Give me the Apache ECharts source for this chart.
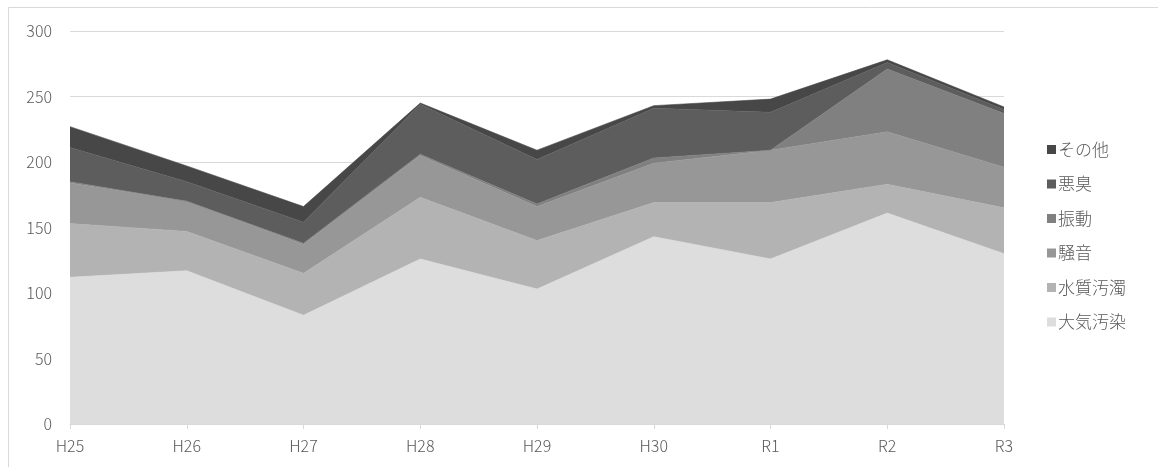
<!DOCTYPE html>
<html>
<head>
<meta charset="utf-8">
<script src="https://cdn.jsdelivr.net/npm/echarts@6/dist/echarts.min.js"></script>
<style>
  html, body { margin: 0; padding: 0; background: #ffffff; }
  #chart { width: 1158px; height: 467px; }
</style>
</head>
<body>
<div id="chart"></div>
<script>
// Fiscal years
const years = ['H25', 'H26', 'H27', 'H28', 'H29', 'H30', 'R1', 'R2', 'R3'];

// Complaint counts per category (stacked from the bottom up)
const taikiOsen  = [112, 117, 83, 126, 103, 143, 126, 161, 130]; // 大気汚染
const suishitsu  = [41, 30, 32, 47, 37, 26, 43, 22, 35];         // 水質汚濁
const souon      = [31, 23, 22, 32, 26, 30, 40, 40, 31];         // 騒音
const shindou    = [1, 0, 1, 1, 2, 4, 0, 48, 41];                // 振動
const akushuu    = [26, 15, 16, 38, 34, 38, 29, 5, 3];           // 悪臭
const sonota     = [16, 12, 12, 1, 7, 2, 10, 2, 2];              // その他

const yTicks = { min: 0, max: 300, interval: 50 };

const seriesDefs = [
  { name: '大気汚染', data: taikiOsen, color: '#dddddd' },
  { name: '水質汚濁', data: suishitsu, color: '#b3b3b3' },
  { name: '騒音',     data: souon,     color: '#979797' },
  { name: '振動',     data: shindou,   color: '#808080' },
  { name: '悪臭',     data: akushuu,   color: '#5d5d5d' },
  { name: 'その他',   data: sonota,    color: '#474747' }
];

const FONT = '"Noto Sans CJK JP", "Noto Sans", sans-serif';
const chart = echarts.init(document.getElementById('chart'), null, { renderer: 'canvas' });

chart.setOption({
  animation: false,
  backgroundColor: '#ffffff',
  textStyle: { fontFamily: FONT },
  graphic: [{
    type: 'rect',
    shape: { x: 8.5, y: 7.5, width: 1300, height: 600 },
    style: { fill: 'none', stroke: '#d9d9d9', lineWidth: 1 },
    silent: true,
    z: -10
  }],
  grid: { left: 70, right: 154, top: 31, bottom: 43 },
  legend: {
    orient: 'vertical',
    left: 1042,
    top: 136,
    itemWidth: 9,
    itemHeight: 9,
    itemGap: 17.5,
    icon: 'rect',
    data: ['その他', '悪臭', '振動', '騒音', '水質汚濁', '大気汚染'],
    textStyle: { fontFamily: FONT, fontSize: 17, fontWeight: 300, color: '#595959', padding: [0, 0, 0, -3] }
  },
  xAxis: {
    type: 'category',
    data: years,
    boundaryGap: false,
    axisLine: { lineStyle: { color: '#d9d9d9' } },
    axisTick: { show: true, length: 5, lineStyle: { color: '#d9d9d9' } },
    axisLabel: { color: '#595959', fontSize: 16, margin: 14, fontFamily: FONT, fontWeight: 300 }
  },
  yAxis: {
    type: 'value',
    min: yTicks.min,
    max: yTicks.max,
    interval: yTicks.interval,
    axisLine: { show: false },
    axisTick: { show: false },
    splitLine: { lineStyle: { color: '#d9d9d9' } },
    axisLabel: { color: '#595959', fontSize: 16, margin: 18, fontFamily: FONT, fontWeight: 300 }
  },
  series: seriesDefs.map(s => ({
    name: s.name,
    type: 'line',
    stack: 'total',
    data: s.data,
    symbol: 'none',
    lineStyle: { width: 0.6, color: s.color },
    itemStyle: { color: s.color },
    areaStyle: { color: s.color, opacity: 1 }
  }))
});
</script>
</body>
</html>
